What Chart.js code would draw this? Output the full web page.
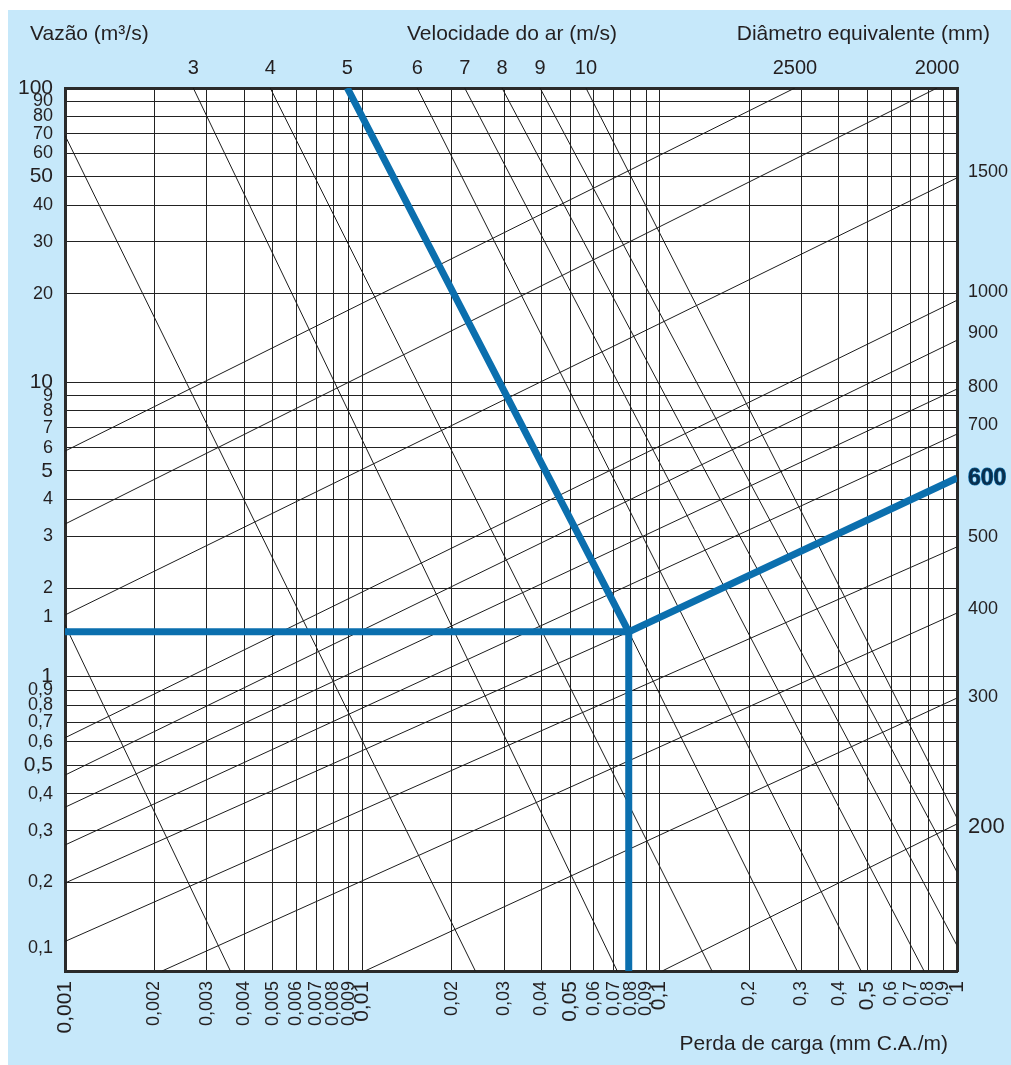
<!DOCTYPE html>
<html lang="pt">
<head>
<meta charset="utf-8">
<title>Perda de carga em dutos</title>
<script src="https://cdn.jsdelivr.net/npm/chart.js@4/dist/chart.umd.min.js"></script>
<style>
  html, body { margin: 0; padding: 0; background: #fff; }
  #painel { position: absolute; left: 8px; top: 10px; width: 1003px; height: 1055px; background: #c6e8fa; }
  #caixa { position: absolute; left: 0; top: 0; width: 1011px; height: 1065px; }
  .rotulo { position: absolute; font-family: "Liberation Sans", Arial, sans-serif; font-size: 21px;
            line-height: 24px; color: #231f20; white-space: nowrap; }
</style>
</head>
<body>
<div id="painel"></div>
<div id="caixa"><canvas id="grafico"></canvas></div>
<div class="rotulo" style="left:30px;top:21px">Vazão (m³/s)</div>
<div class="rotulo" style="left:407px;top:21px">Velocidade do ar (m/s)</div>
<div class="rotulo" style="right:21px;top:21px">Diâmetro equivalente (mm)</div>
<div class="rotulo" style="right:63px;top:1031px">Perda de carga (mm C.A./m)</div>
<script>
const fonte = '"Liberation Sans", Arial, sans-serif';

// eixo inferior: perda de carga (mm C.A./m)
const perdaTicks = [0.001, 0.002, 0.003, 0.004, 0.005, 0.006, 0.007, 0.008, 0.009,
  0.01, 0.02, 0.03, 0.04, 0.05, 0.06, 0.07, 0.08, 0.09,
  0.1, 0.2, 0.3, 0.4, 0.5, 0.6, 0.7, 0.8, 0.9, 1];
const perdaLabels = ['0,001', '0,002', '0,003', '0,004', '0,005', '0,006', '0,007', '0,008', '0,009',
  '0,01', '0,02', '0,03', '0,04', '0,05', '0,06', '0,07', '0,08', '0,09',
  '0,1', '0,2', '0,3', '0,4', '0,5', '0,6', '0,7', '0,8', '0,9', '1'];
const perdaGrandes = [0.001, 0.01, 0.05, 0.1, 0.5, 1];

// eixo esquerdo: vazão (m³/s)
const vazaoTicks = [100, 90, 80, 70, 60, 50, 40, 30, 20, 10, 9, 8, 7, 6, 5, 4, 3, 2, 1.6,
  1, 0.9, 0.8, 0.7, 0.6, 0.5, 0.4, 0.3, 0.2, 0.12];
const vazaoLabels = ['100', '90', '80', '70', '60', '50', '40', '30', '20', '10', '9', '8', '7', '6', '5', '4', '3', '2', '1',
  '1', '0,9', '0,8', '0,7', '0,6', '0,5', '0,4', '0,3', '0,2', '0,1'];
const vazaoGrandes = [100, 50, 10, 5, 1, 0.5];
const vazaoSemLinha = [1.6, 0.12]; // rótulos soltos, sem linha de grade

// linhas de velocidade do ar (m/s)
const velNomes = ['', '', '3', '4', '5', '6', '7', '8', '9', '10'];
const velInicioPerda = [0.001, 0.001, 0.0027, 0.0049, 0.0089, 0.0153, 0.0221, 0.0295, 0.0396, 0.0565];
const velInicioVazao = [1.5, 69, 100, 100, 100, 100, 100, 100, 100, 100];
const velFimPerda = [0.0036, 0.024, 0.072, 0.15, 0.29, 0.476, 0.775, 1, 1, 1];
const velFimVazao = [0.1, 0.1, 0.1, 0.1, 0.1, 0.1, 0.1, 0.122, 0.217, 0.331];

// linhas de diâmetro equivalente (mm)
const diamNomes = ['2500', '2000', '1500', '1000', '900', '800', '700', '600', '500', '400', '300', '200'];
const diamInicioPerda = [0.001, 0.001, 0.001, 0.001, 0.001, 0.001, 0.001, 0.001, 0.001, 0.00212, 0.0102, 0.102];
const diamInicioVazao = [5.84, 3.3, 1.62, 0.62, 0.463, 0.36, 0.268, 0.199, 0.126, 0.1, 0.1, 0.1];
const diamFimPerda = [0.285, 0.857, 1, 1, 1, 1, 1, 1, 1, 1, 1, 1];
const diamFimVazao = [100, 100, 49.5, 19, 13.9, 9.49, 6.67, 4.73, 2.76, 1.645, 0.846, 0.316];
// posição dos rótulos da direita (1500 ... 200)
const diamRotuloVazao = [51.8, 20.3, 14.7, 9.64, 7.16, 4.69, 2.98, 1.70, 0.853, 0.308];

// exemplo destacado: 5 m/s, 600 mm
const exVelocidade = 4;   // índice em velNomes
const exDiametro = 7;     // índice em diamNomes
const exPerda = 0.0787;
const exVazao = 1.42;

// ticks do topo: início das linhas de velocidade e fim das de diâmetro
const topoTicks = [];
const topoLabels = [];
velNomes.forEach((n, i) => { if (n) { topoTicks.push(velInicioPerda[i]); topoLabels.push(n); } });
diamNomes.forEach((n, i) => { if (diamFimVazao[i] === 100) { topoTicks.push(diamFimPerda[i]); topoLabels.push(n); } });
const direitaLabels = diamNomes.slice(2);

const preto = '#1c1c1c';
const azul = '#0b6fae';
const corTexto = '#231f20';
const ponto = { x: exPerda, y: exVazao };

const datasets = [];
velNomes.forEach((n, i) => {
  const pts = [{ x: velInicioPerda[i], y: velInicioVazao[i] }, { x: velFimPerda[i], y: velFimVazao[i] }];
  if (i === exVelocidade) pts.splice(1, 0, ponto); // passa pelo ponto do exemplo
  datasets.push({ data: pts, borderColor: preto, borderWidth: 1, order: 1 });
});
diamNomes.forEach((n, i) => {
  const pts = [{ x: diamInicioPerda[i], y: diamInicioVazao[i] }, { x: diamFimPerda[i], y: diamFimVazao[i] }];
  if (i === exDiametro) pts.splice(1, 0, ponto);
  datasets.push({ data: pts, borderColor: preto, borderWidth: 1, order: 1 });
});
// caminho azul, desenhado por cima
datasets.push({
  data: [{ x: velInicioPerda[exVelocidade], y: velInicioVazao[exVelocidade] }, ponto,
         { x: diamFimPerda[exDiametro], y: diamFimVazao[exDiametro] }],
  borderColor: azul, borderWidth: 7, order: 0
});
datasets.push({
  data: [{ x: 0.001, y: exVazao }, ponto, { x: exPerda, y: 0.1 }],
  borderColor: azul, borderWidth: 7, order: 0
});

function fixaTicks(valores) {
  return (scale) => { scale.ticks = valores.map(v => ({ value: v })); };
}
function rotulo(valores, textos) {
  return (v) => { const i = valores.indexOf(v); return i >= 0 ? textos[i] : ''; };
}

const fundoBranco = {
  id: 'fundoBranco',
  beforeDraw(chart) {
    const { ctx, chartArea: a } = chart;
    ctx.save();
    ctx.fillStyle = '#fff';
    ctx.fillRect(a.left, a.top, a.right - a.left, a.bottom - a.top);
    ctx.restore();
  }
};

const borda = { display: true, color: '#2a2a2a', width: 3 };

new Chart(document.getElementById('grafico'), {
  type: 'scatter',
  data: { datasets: datasets },
  options: {
    responsive: true,
    maintainAspectRatio: false,
    animation: false,
    showLine: true,
    layout: { padding: 0 },
    elements: { point: { radius: 0, hoverRadius: 0 }, line: { tension: 0, fill: false, borderCapStyle: 'butt' } },
    plugins: { legend: { display: false }, tooltip: { enabled: false } },
    scales: {
      x: {
        type: 'logarithmic', position: 'bottom', min: 0.001, max: 1,
        afterBuildTicks: fixaTicks(perdaTicks),
        afterFit: (s) => { s.height = 94; },
        grid: { color: '#222', lineWidth: 1, drawTicks: false },
        border: borda,
        ticks: {
          autoSkip: false, minRotation: 90, maxRotation: 90, padding: 10, color: corTexto,
          font: (c) => ({ family: fonte, size: perdaGrandes.includes(c.tick && c.tick.value) ? 21 : 18 }),
          callback: rotulo(perdaTicks, perdaLabels)
        }
      },
      xTopo: {
        type: 'logarithmic', position: 'top', min: 0.001, max: 1,
        afterBuildTicks: fixaTicks(topoTicks),
        afterFit: (s) => { s.height = 88; },
        grid: { display: false, drawTicks: false },
        border: borda,
        ticks: {
          autoSkip: false, minRotation: 0, maxRotation: 0, padding: 8, color: corTexto,
          font: { family: fonte, size: 20 },
          callback: rotulo(topoTicks, topoLabels)
        }
      },
      y: {
        type: 'logarithmic', position: 'left', min: 0.1, max: 100,
        afterBuildTicks: fixaTicks(vazaoTicks),
        afterFit: (s) => { s.width = 65; },
        grid: {
          lineWidth: 1, drawTicks: false,
          color: (c) => vazaoSemLinha.includes(c.tick && c.tick.value) ? 'rgba(0,0,0,0)' : '#222'
        },
        border: borda,
        ticks: {
          autoSkip: false, padding: 12, color: corTexto,
          font: (c) => ({ family: fonte, size: vazaoGrandes.includes(c.tick && c.tick.value) ? 21 : 18 }),
          callback: rotulo(vazaoTicks, vazaoLabels)
        }
      },
      yDir: {
        type: 'logarithmic', position: 'right', min: 0.1, max: 100,
        afterBuildTicks: fixaTicks(diamRotuloVazao),
        afterFit: (s) => { s.width = 54; },
        grid: { display: false, drawTicks: false },
        border: borda,
        ticks: {
          autoSkip: false, padding: 11,
          color: (c) => (c.index === exDiametro - 2 ? '#0a2f4d' : corTexto),
          textStrokeColor: azul,
          textStrokeWidth: (c) => (c.index === exDiametro - 2 ? 1.2 : 0),
          font: (c) => {
            if (c.index === exDiametro - 2) return { family: fonte, size: 23, weight: 'bold' };
            if (c.index === direitaLabels.length - 1) return { family: fonte, size: 22 };
            return { family: fonte, size: 18 };
          },
          callback: rotulo(diamRotuloVazao, direitaLabels)
        }
      }
    }
  },
  plugins: [fundoBranco]
});
</script>
</body>
</html>
